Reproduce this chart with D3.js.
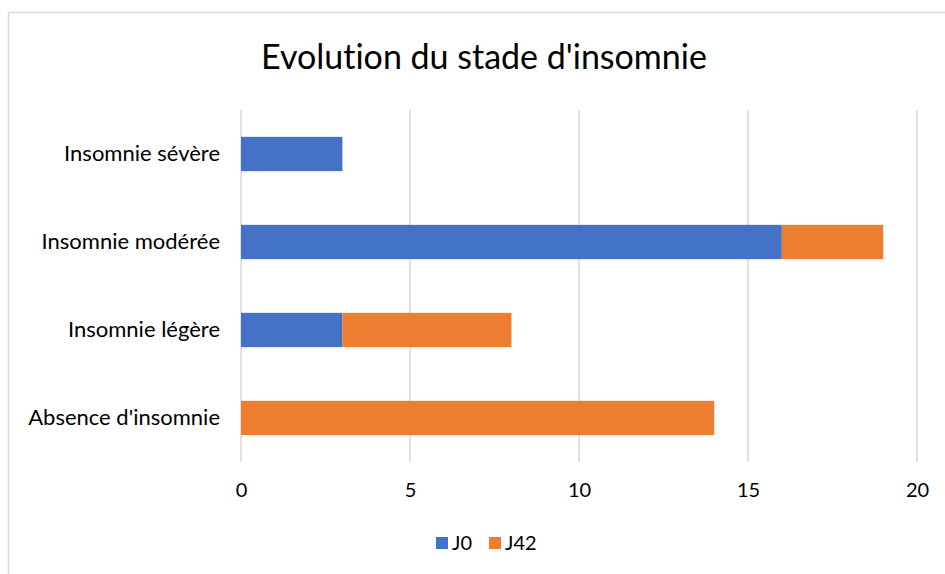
<!DOCTYPE html>
<html>
<head>
<meta charset="utf-8">
<script src="https://cdn.jsdelivr.net/npm/d3@7"></script>
<style>
    body { margin: 0; background: #fff; }
    text { font-family: Lato, "Open Sans", sans-serif; fill: #000; font-variant-ligatures: none; }
</style>
</head>
<body>
<div id="chart"></div>
<script>

var categories = ["Insomnie sévère", "Insomnie modérée", "Insomnie légère", "Absence d'insomnie"];
var seriesNames = ["J0", "J42"];
var valuesJ0 = [3, 16, 3, 0];
var valuesJ42 = [0, 3, 5, 14];
var tickValues = [0, 5, 10, 15, 20];
var colors = ["#4472C4", "#ED7D31"];

var W = 945, H = 574;

var svg = d3.select("#chart")
    .append("svg")
    .attr("width", W)
    .attr("height", H);

// chart frame
svg.append("rect")
    .attr("x", 8.5).attr("y", 12.5)
    .attr("width", W + 10).attr("height", H + 10)
    .attr("fill", "#fff")
    .attr("stroke", "#d9d9d9")
    .attr("stroke-width", 1.5);

var margin = { top: 110, left: 241, right: 28, bottom: 112 };
var width = W - margin.left - margin.right,
    height = H - margin.top - margin.bottom;

var x = d3.scaleLinear().domain([0, 20]).range([0, width]);
var y = d3.scaleBand().domain(categories).range([0, height]).paddingInner(0.61).paddingOuter(0.305);

var g = svg.append("g")
    .attr("transform", "translate(" + margin.left + "," + margin.top + ")");

// gridlines
g.selectAll(".grid")
    .data(tickValues)
    .enter().append("line")
    .attr("class", "grid")
    .attr("x1", function (d) { return x(d); })
    .attr("x2", function (d) { return x(d); })
    .attr("y1", 0)
    .attr("y2", height)
    .attr("stroke", "#d9d9d9")
    .attr("stroke-width", 1.5);

// stack the two series
var rows = categories.map(function (c, i) {
    return { cat: c, J0: valuesJ0[i], J42: valuesJ42[i] };
});
var stacked = d3.stack().keys(seriesNames)(rows);

g.selectAll(".series")
    .data(stacked)
    .enter().append("g")
    .attr("class", "series")
    .attr("fill", function (d, i) { return colors[i]; })
    .selectAll("rect")
    .data(function (d) { return d; })
    .enter().append("rect")
    .attr("x", function (d) { return x(d[0]); })
    .attr("y", function (d) { return y(d.data.cat); })
    .attr("width", function (d) { return x(d[1]) - x(d[0]); })
    .attr("height", y.bandwidth());

// x axis labels
var xAxis = d3.axisBottom(x).tickValues(tickValues).tickSize(0).tickPadding(21);
var xg = g.append("g")
    .attr("transform", "translate(0," + height + ")")
    .call(xAxis);
xg.select(".domain").remove();
xg.selectAll("text").style("font-size", "20px").style("font-family", "Lato, 'Open Sans', sans-serif");

// y axis labels
var yAxis = d3.axisLeft(y).tickSize(0).tickPadding(21);
var yg = g.append("g").call(yAxis);
yg.select(".domain").remove();
yg.selectAll("text").style("font-size", "22px").style("font-family", "Lato, 'Open Sans', sans-serif");

// title
svg.append("text")
    .attr("x", 484)
    .attr("y", 69)
    .attr("text-anchor", "middle")
    .style("font-size", "34px")
    .text("Evolution du stade d'insomnie");

// legend
var legend = svg.append("g").attr("transform", "translate(436,543)");
var items = legend.selectAll(".item")
    .data(seriesNames)
    .enter().append("g")
    .attr("class", "item")
    .attr("transform", function (d, i) { return "translate(" + (i === 0 ? 0 : 53) + ",0)"; });
items.append("rect")
    .attr("x", 0).attr("y", -6)
    .attr("width", 12).attr("height", 12)
    .attr("fill", function (d, i) { return colors[i]; });
items.append("text")
    .attr("x", 16).attr("y", 7)
    .style("font-size", "20px")
    .text(function (d) { return d; });

</script>
</body>
</html>
